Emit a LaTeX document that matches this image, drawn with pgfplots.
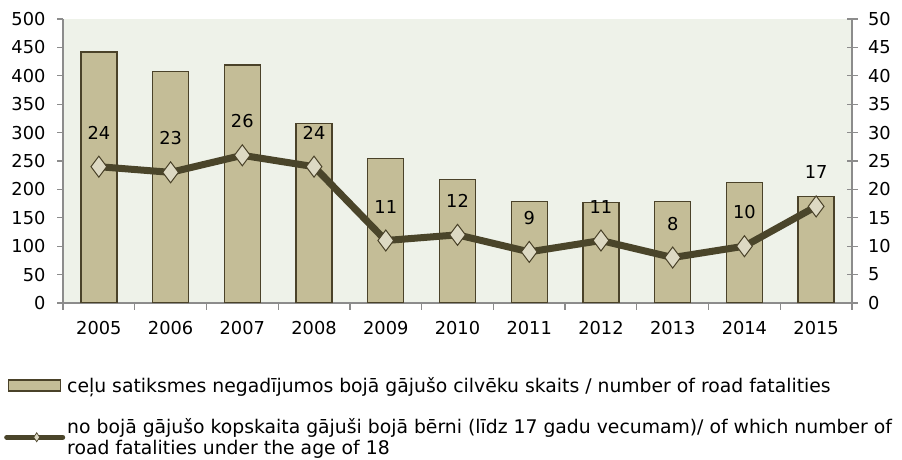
\documentclass[border=0pt]{standalone}
\usepackage{pgfplots}
\pgfplotsset{compat=1.18}
\usepackage{fontspec}
\setmainfont{DejaVu Sans}
\definecolor{barfill}{HTML}{C4BD97}
\definecolor{baredge}{HTML}{4A4229}
\definecolor{linecol}{HTML}{4A452A}
\definecolor{markfill}{HTML}{DDD9C3}
\definecolor{bgc}{HTML}{EEF2E9}
\definecolor{axgray}{HTML}{8C8C8C}
\pgfplotsset{
  common/.style={
    at={(63pt,157pt)}, anchor=south west,
    width=789pt, height=284pt, scale only axis,
    xmin=-0.5, xmax=10.5,
    /pgf/number format/assume math mode=true,
    ticklabel style={font=\fontsize{17.8}{20}\selectfont, text=black},
    axis line style={draw=axgray, line width=1.3pt},
    every tick/.style={draw=axgray, line width=1.3pt},
  }
}
\begin{document}
\begin{tikzpicture}
\path[use as bounding box] (0,0) rectangle (902pt,460pt);
\begin{axis}[common,
  ymin=0, ymax=500,
  ytick={0,50,...,500},
  axis x line*=bottom, axis y line*=left,
  xtick={0,...,10},
  xticklabels={2005,2006,2007,2008,2009,2010,2011,2012,2013,2014,2015},
  minor xtick={-0.5,0.5,...,10.5},
  major x tick style={draw=none},
  minor x tick style={draw=axgray, line width=1.3pt},
  minor tick length=7pt,
  major tick length=6pt,
  tick align=outside,
  yticklabel style={xshift=-8pt},
  xticklabel style={yshift=-9pt},
  axis background/.style={fill=bgc},
  ybar, bar width=36pt, bar shift=0pt,
]
\addplot[fill=barfill, draw=baredge, line width=1.3pt] coordinates {
(0,442) (1,407) (2,419) (3,316) (4,254) (5,218) (6,179) (7,177) (8,179) (9,212) (10,188)};
\end{axis}
\begin{axis}[common,
  ymin=0, ymax=50,
  ytick={0,5,...,50},
  axis y line*=right, axis x line=none,
  tick align=center, major tick length=11pt,
  yticklabel style={xshift=7pt},
  clip=false,
  legend style={draw=none, fill=none, at={(0,0)}, anchor=north west,
    xshift=-62pt, yshift=-70pt,
    font=\fontsize{18.8}{20.5}\selectfont, cells={align=left},
    row sep=21pt},
  legend cell align=left,
]
\addlegendimage{legend image code/.code={\draw[fill=barfill, draw=baredge, line width=1.2pt] (4pt,-5.5pt) rectangle (56pt,5.5pt);}}
\addlegendentry{ceļu satiksmes negadījumos bojā gājušo cilvēku skaits / number of road fatalities}
\addplot[linecol, line width=7pt, mark=diamond*, mark size=10.5pt,
  mark options={fill=markfill, draw=baredge, line width=1pt},
  legend image code/.code={\draw[linecol, line width=5pt, line cap=round] (2pt,0pt) -- (58pt,0pt);
    \draw[fill=markfill, draw=baredge, line width=0.7pt] (32pt,4.5pt)--(35pt,0pt)--(32pt,-4.5pt)--(29pt,0pt)--cycle;},
  nodes near coords,
  every node near coord/.append style={anchor=center, yshift=34pt, font=\fontsize{17.8}{20}\selectfont, text=black},
] coordinates {(0,24) (1,23) (2,26) (3,24) (4,11) (5,12) (6,9) (7,11) (8,8) (9,10) (10,17)};
\addlegendentry{no bojā gājušo kopskaita gājuši bojā bērni (līdz 17 gadu vecumam)/ of which number of\\road fatalities under the age of 18}
\end{axis}
\end{tikzpicture}
\end{document}
